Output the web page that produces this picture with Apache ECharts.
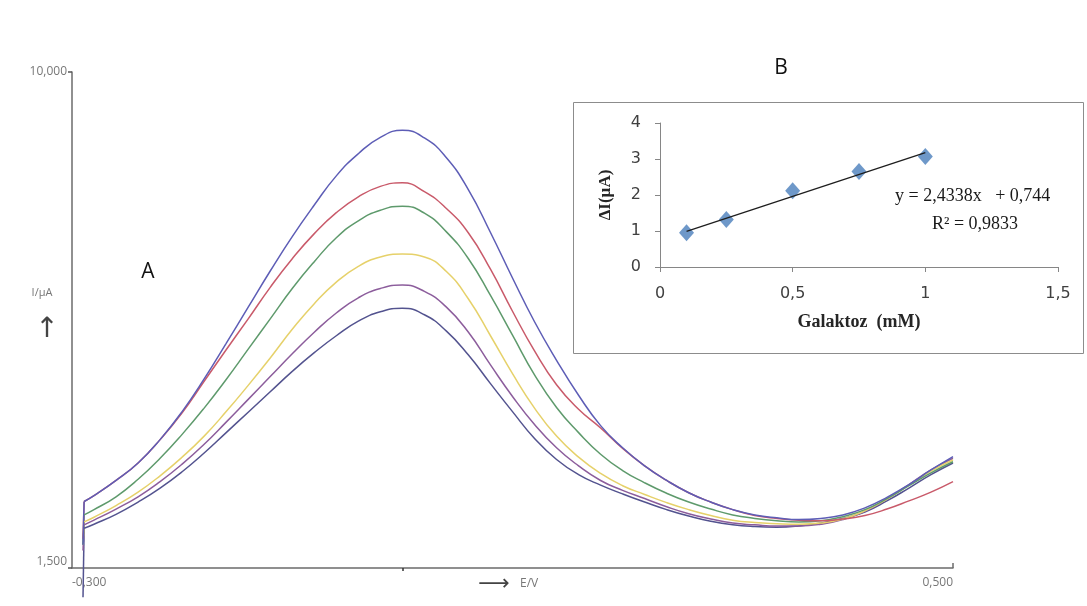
<!DOCTYPE html>
<html>
<head>
<meta charset="utf-8">
<script src="https://cdn.jsdelivr.net/npm/echarts@6/dist/echarts.min.js"></script>
<style>
  html, body { margin: 0; padding: 0; background: #fff; }
  #chart { width: 1087px; height: 606px; }
</style>
</head>
<body>
<div id="chart"></div>
<script>
// Potential sweep (V), shared by every voltammogram.
// The first two samples hold the switch-on step at the start of the sweep.
const potential = [-0.29, -0.289,
  -0.28, -0.26, -0.24, -0.22, -0.20, -0.18, -0.16, -0.14, -0.12, -0.10,
  -0.08, -0.06, -0.04, -0.02, 0.00, 0.02, 0.04, 0.06, 0.08, 0.10,
  0.12, 0.14, 0.16, 0.18, 0.20, 0.22, 0.24, 0.26, 0.28, 0.30,
  0.32, 0.34, 0.36, 0.38, 0.40, 0.42, 0.44, 0.46, 0.48, 0.50];

// Current (µA) for each run, lowest peak first
const currentNavy = [1.00, 2.18,
  2.25, 2.42, 2.63, 2.87, 3.15, 3.47, 3.82, 4.17, 4.52, 4.87,
  5.19, 5.48, 5.73, 5.89, 5.95, 5.84, 5.56, 5.15, 4.66, 4.18,
  3.72, 3.36, 3.10, 2.92, 2.77, 2.63, 2.50, 2.39, 2.30, 2.24,
  2.21, 2.20, 2.22, 2.27, 2.35, 2.46, 2.65, 2.87, 3.10, 3.30];
const currentPurple = [1.80, 2.24,
  2.32, 2.51, 2.72, 2.98, 3.28, 3.62, 4.00, 4.39, 4.78, 5.17,
  5.54, 5.87, 6.13, 6.29, 6.35, 6.24, 5.97, 5.54, 4.98, 4.44,
  3.96, 3.56, 3.25, 3.00, 2.83, 2.69, 2.55, 2.43, 2.34, 2.27,
  2.24, 2.22, 2.22, 2.25, 2.33, 2.47, 2.68, 2.93, 3.18, 3.38];
const currentYellow = [1.90, 2.29,
  2.37, 2.57, 2.80, 3.08, 3.40, 3.76, 4.18, 4.63, 5.10, 5.59,
  6.03, 6.40, 6.67, 6.83, 6.88, 6.83, 6.58, 6.11, 5.48, 4.83,
  4.24, 3.76, 3.40, 3.12, 2.91, 2.76, 2.62, 2.50, 2.40, 2.32,
  2.28, 2.26, 2.25, 2.27, 2.34, 2.48, 2.68, 2.92, 3.16, 3.35];
const currentGreen = [1.90, 2.41,
  2.50, 2.72, 3.02, 3.38, 3.79, 4.24, 4.73, 5.25, 5.77, 6.29,
  6.75, 7.16, 7.45, 7.63, 7.70, 7.58, 7.26, 6.80, 6.17, 5.49,
  4.81, 4.25, 3.82, 3.45, 3.17, 2.96, 2.78, 2.63, 2.51, 2.41,
  2.35, 2.31, 2.29, 2.31, 2.38, 2.50, 2.69, 2.91, 3.13, 3.32];
const currentRed = [2.00, 2.64,
  2.74, 3.00, 3.30, 3.70, 4.16, 4.70, 5.24, 5.77, 6.31, 6.80,
  7.23, 7.59, 7.86, 8.04, 8.10, 7.95, 7.66, 7.24, 6.62, 5.90,
  5.22, 4.64, 4.22, 3.90, 3.55, 3.25, 3.00, 2.79, 2.63, 2.50,
  2.40, 2.35, 2.32, 2.31, 2.34, 2.40, 2.51, 2.65, 2.80, 2.98];
const currentBlue = [1.90, 2.64,
  2.74, 3.00, 3.30, 3.70, 4.18, 4.74, 5.35, 5.97, 6.59, 7.18,
  7.72, 8.22, 8.60, 8.88, 9.00, 8.87, 8.53, 7.98, 7.25, 6.47,
  5.72, 5.06, 4.46, 3.94, 3.56, 3.25, 3.00, 2.79, 2.63, 2.50,
  2.41, 2.36, 2.33, 2.35, 2.41, 2.53, 2.71, 2.93, 3.18, 3.41];

// Axis labels of the voltammogram panel
const mainXLabels = [-0.3, 0.5];
const mainYLabels = [1.5, 10];

// Calibration panel: galactose concentration (mM) vs. current change (µA)
const galactose = [0.1, 0.25, 0.5, 0.75, 1.0];
const deltaI = [0.95, 1.32, 2.12, 2.65, 3.07];
const fitSlope = 2.4338;
const fitIntercept = 0.744;
const fitR2 = 0.9833;

const curves = [
  { name: 'run 1', data: currentNavy,   color: '#53538f' },
  { name: 'run 2', data: currentPurple, color: '#8c5d9c' },
  { name: 'run 3', data: currentYellow, color: '#e6d16a' },
  { name: 'run 4', data: currentGreen,  color: '#5e9a6c' },
  { name: 'run 5', data: currentRed,    color: '#c95a6a' },
  { name: 'run 6', data: currentBlue,   color: '#5d5db6' }
];

const comma = s => String(s).replace('.', ',');
const fmt3 = v => comma(v.toFixed(3));
const near = (a, b) => Math.abs(a - b) < 1e-9;

const fitX = [galactose[0], galactose[galactose.length - 1]];
const fitLine = fitX.map(x => [x, fitSlope * x + fitIntercept]);

const chart = echarts.init(document.getElementById('chart'), null, { renderer: 'canvas' });

const pairs = c => potential.map((e, i) => [e, c.data[i]]);

// switch-on step, drawn straight
const stepSeries = curves.map(c => ({
  name: c.name,
  type: 'line',
  xAxisIndex: 0, yAxisIndex: 0,
  data: pairs(c).slice(0, 2),
  symbol: 'none',
  clip: false,
  lineStyle: { color: c.color, width: 1.5 },
  itemStyle: { color: c.color }
}));

// the sweep itself
const sweepSeries = curves.map(c => ({
  name: c.name,
  type: 'line',
  xAxisIndex: 0, yAxisIndex: 0,
  data: pairs(c).slice(1),
  smooth: 0.5,
  symbol: 'none',
  clip: false,
  lineStyle: { color: c.color, width: 1.5 },
  itemStyle: { color: c.color }
}));

const option = {
  animation: false,
  backgroundColor: '#ffffff',
  grid: [
    { left: 72, top: 72, width: 881, height: 496 },
    { left: 660, top: 123, width: 398, height: 144 }
  ],
  xAxis: [
    {
      gridIndex: 0, type: 'value', position: 'bottom', min: -0.3, max: 0.5, interval: 0.1,
      axisLine: { show: true, onZero: false, lineStyle: { color: '#6b6b6b', width: 1.5 } },
      axisTick: { show: true, customValues: [0], length: 3, lineStyle: { color: '#333', width: 1.5 } },
      axisLabel: {
        formatter: v => mainXLabels.some(t => near(t, v)) ? fmt3(v) : '',
        color: '#777', fontSize: 12, fontFamily: 'Open Sans', margin: 9,
        alignMinLabel: 'left', alignMaxLabel: 'right'
      },
      splitLine: { show: false }
    },
    {
      gridIndex: 1, type: 'value', min: 0, max: 1.5, interval: 0.5,
      axisLine: { show: true, onZero: false, lineStyle: { color: '#868686', width: 1 } },
      axisTick: { show: true, length: 5, lineStyle: { color: '#868686' } },
      axisLabel: { formatter: v => comma(v), color: '#404040', fontSize: 16, fontFamily: 'DejaVu Sans', margin: 19 },
      splitLine: { show: false },
      name: 'Galaktoz  (mM)', nameLocation: 'middle', nameGap: 46,
      nameTextStyle: { fontFamily: 'Liberation Serif', fontWeight: 'bold', fontSize: 18, color: '#262626' }
    },
    {
      // short upward tick closing the potential axis
      gridIndex: 0, type: 'value', position: 'bottom', min: -0.3, max: 0.5, interval: 0.1,
      axisLine: { show: false },
      axisTick: { show: true, inside: true, customValues: [0.5], length: 5, lineStyle: { color: '#6b6b6b', width: 1.5 } },
      axisLabel: { show: false },
      splitLine: { show: false }
    }
  ],
  yAxis: [
    {
      gridIndex: 0, type: 'value', min: 1.5, max: 10, interval: 0.5,
      axisLine: { show: true, onZero: false, lineStyle: { color: '#6b6b6b', width: 1.5 } },
      axisTick: { show: true, customValues: mainYLabels, length: 4, lineStyle: { color: '#555', width: 1.5 } },
      axisLabel: {
        formatter: v => mainYLabels.some(t => near(t, v)) ? fmt3(v) : '',
        color: '#777', fontSize: 12, fontFamily: 'Open Sans', margin: 5,
        verticalAlignMinLabel: 'bottom'
      },
      splitLine: { show: false }
    },
    {
      gridIndex: 1, type: 'value', min: 0, max: 4, interval: 1,
      axisLine: { show: true, onZero: false, lineStyle: { color: '#868686', width: 1 } },
      axisTick: { show: true, length: 5, lineStyle: { color: '#868686' } },
      axisLabel: { color: '#404040', fontSize: 16, fontFamily: 'DejaVu Sans', margin: 19 },
      splitLine: { show: false },
      name: 'ΔI(µA)', nameLocation: 'middle', nameRotate: 90, nameGap: 46,
      nameTextStyle: { fontFamily: 'Liberation Serif', fontWeight: 'bold', fontSize: 17, color: '#262626' }
    }
  ],
  series: stepSeries.concat(sweepSeries, [
    {
      name: 'ΔI',
      type: 'scatter',
      xAxisIndex: 1, yAxisIndex: 1,
      data: galactose.map((g, i) => [g, deltaI[i]]),
      symbol: 'diamond',
      symbolSize: [15, 17],
      itemStyle: { color: '#4a7ebb' },
      z: 3
    },
    {
      name: 'fit',
      type: 'line',
      xAxisIndex: 1, yAxisIndex: 1,
      data: fitLine,
      symbol: 'none',
      lineStyle: { color: '#1e1e1e', width: 1.3 },
      z: 4
    }
  ]),
  graphic: [
    {
      type: 'rect', z: 1, silent: true,
      shape: { x: 573.5, y: 102.5, width: 510, height: 251 },
      style: { fill: 'none', stroke: '#8c8c8c', lineWidth: 1 }
    },
    { type: 'text', x: 148, y: 272, style: { text: 'A', font: '21px "Open Sans"', fill: '#111', textAlign: 'center', textVerticalAlign: 'middle' } },
    { type: 'text', x: 781, y: 68, style: { text: 'B', font: '21px "Open Sans"', fill: '#111', textAlign: 'center', textVerticalAlign: 'middle' } },
    { type: 'text', x: 42, y: 293, style: { text: 'I/µA', font: '11px "Open Sans"', fill: '#777', textAlign: 'center', textVerticalAlign: 'middle' } },
    { type: 'text', x: 47, y: 330, style: { text: '↑', font: '28px "DejaVu Sans"', fill: '#444', textAlign: 'center', textVerticalAlign: 'middle' } },
    { type: 'text', x: 494, y: 584, style: { text: '⟶', font: '22px "DejaVu Sans"', fill: '#444', textAlign: 'center', textVerticalAlign: 'middle' } },
    { type: 'text', x: 520, y: 584, style: { text: 'E/V', font: '12px "Open Sans"', fill: '#777', textAlign: 'left', textVerticalAlign: 'middle' } },
    { type: 'text', x: 895, y: 196, z: 5, style: { text: 'y = ' + comma(fitSlope) + 'x   + ' + comma(fitIntercept), font: '18px "Liberation Serif"', fill: '#1a1a1a', textAlign: 'left', textVerticalAlign: 'middle' } },
    { type: 'text', x: 932, y: 224, z: 5, style: { text: 'R² = ' + comma(fitR2), font: '18px "Liberation Serif"', fill: '#1a1a1a', textAlign: 'left', textVerticalAlign: 'middle' } }
  ]
};

chart.setOption(option);
</script>
</body>
</html>
